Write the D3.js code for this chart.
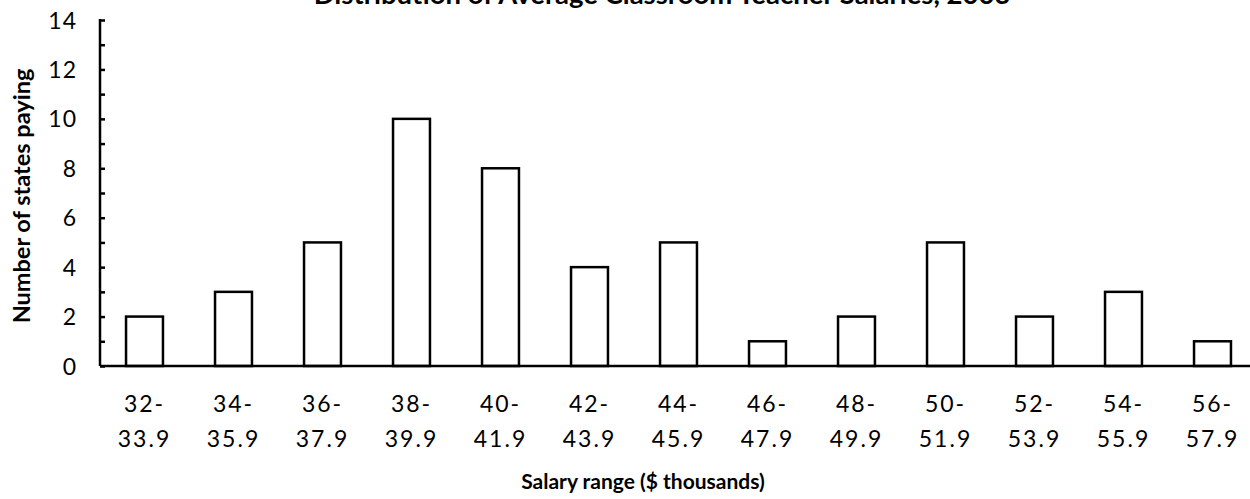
<!DOCTYPE html>
<html>
<head>
<meta charset="utf-8">
<script src="https://cdn.jsdelivr.net/npm/d3@7"></script>
<style>
  html, body { margin: 0; padding: 0; background: #fff; }
  svg { display: block; }
  text { font-family: "Lato", "DejaVu Sans", sans-serif; fill: #000; }
</style>
</head>
<body>
<svg id="chart" width="1250" height="499"></svg>
<script>
const title = "Distribution of Average Classroom Teacher Salaries, 2003";
const xTitle = "Salary range ($ thousands)";
const yTitle = "Number of states paying";
const rangeStarts = ["32", "34", "36", "38", "40", "42", "44", "46", "48", "50", "52", "54", "56"];
const rangeEnds = ["33.9", "35.9", "37.9", "39.9", "41.9", "43.9", "45.9", "47.9", "49.9", "51.9", "53.9", "55.9", "57.9"];
const counts = [2, 3, 5, 10, 8, 4, 5, 1, 2, 5, 2, 3, 1];
const yTicks = [0, 1, 2, 3, 4, 5, 6, 7, 8, 9, 10, 11, 12, 13, 14];

(function () {
const svg = d3.select("#chart");
const mLeft = 100, mRight = 1257, mTop = 20, mBottom = 366;

const x = d3.scaleBand().domain(rangeStarts).range([mLeft, mRight])
  .paddingInner(0.585).paddingOuter(0.2925);
const y = d3.scaleLinear().domain([0, 14]).range([mBottom, mTop]);

// title (mostly cut off at top, as in the source)
svg.append("text")
  .attr("x", 662).attr("y", 4)
  .attr("text-anchor", "middle")
  .style("font-size", "27.5px").style("font-weight", "bold")
  .text(title);

// bars
svg.append("g").selectAll("rect")
  .data(counts)
  .join("rect")
  .attr("x", (d, i) => x(rangeStarts[i]))
  .attr("y", d => y(d))
  .attr("width", x.bandwidth())
  .attr("height", d => y(0) - y(d))
  .attr("fill", "#fff")
  .attr("stroke", "#000")
  .attr("stroke-width", 2.5);

// y axis
const yAxis = svg.append("g")
  .attr("transform", `translate(${mLeft},0)`)
  .call(d3.axisLeft(y).tickValues(yTicks)
    .tickSize(-5).tickPadding(23)
    .tickFormat(d => d % 2 === 0 ? d : ""));
yAxis.select(".domain").remove();
yAxis.selectAll(".tick line").attr("stroke", "#000").attr("stroke-width", 2.5);
yAxis.selectAll(".tick text")
  .style("font-size", "23px").style("font-family", "Lato, sans-serif")
  .style("letter-spacing", "1px")
  .attr("dy", "0.35em");
svg.append("line")
  .attr("x1", mLeft).attr("x2", mLeft)
  .attr("y1", y(14) - 1).attr("y2", y(0))
  .attr("stroke", "#000").attr("stroke-width", 2.5);

// x axis
const xAxis = svg.append("g")
  .attr("transform", `translate(0,${mBottom})`)
  .call(d3.axisBottom(x).tickSize(0).tickFormat(""));
xAxis.select(".domain").remove();
svg.append("line")
  .attr("x1", mLeft).attr("x2", 1250)
  .attr("y1", y(0)).attr("y2", y(0))
  .attr("stroke", "#000").attr("stroke-width", 2.5);

const labels = xAxis.selectAll(".tick").append("text")
  .attr("text-anchor", "middle")
  .style("font-size", "23px")
  .style("font-family", "Lato, sans-serif")
  .style("letter-spacing", "2px");
labels.append("tspan").attr("x", 0).attr("y", 46)
  .text((d, i) => rangeStarts[i] + "-");
labels.append("tspan").attr("x", 0).attr("y", 81)
  .text((d, i) => rangeEnds[i]);

// axis titles
svg.append("text")
  .attr("x", 643).attr("y", 489)
  .attr("text-anchor", "middle")
  .style("font-size", "21px").style("font-weight", "bold")
  .text(xTitle);

svg.append("text")
  .attr("transform", "translate(30,196) rotate(-90)")
  .attr("text-anchor", "middle")
  .style("font-size", "23.5px").style("font-weight", "bold")
  .text(yTitle);
})();
</script>
</body>
</html>
